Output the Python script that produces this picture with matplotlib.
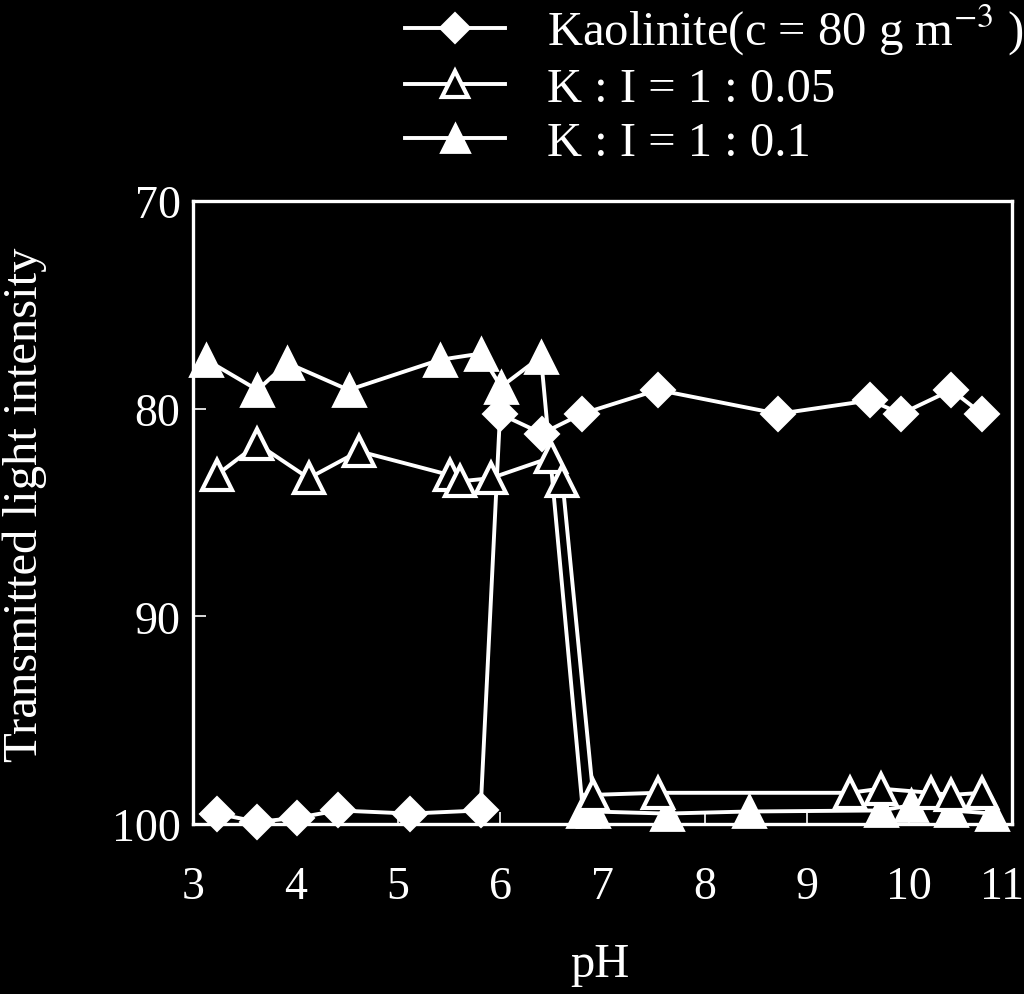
import matplotlib
matplotlib.use("Agg")
import matplotlib.pyplot as plt
from matplotlib.transforms import ScaledTranslation

# ---- data ----
kao_ph = [3.23, 3.63, 4.02, 4.42, 5.12, 5.81, 6.00, 6.41, 6.80, 7.54, 8.72, 9.62, 9.92, 10.41, 10.71]
kao_val = [99.5, 99.9, 99.7, 99.35, 99.5, 99.35, 80.25, 81.2, 80.25, 79.1, 80.25, 79.6, 80.25, 79.1, 80.25]

ki005_ph = [3.23, 3.63, 4.13, 4.62, 5.51, 5.61, 5.91, 6.50, 6.61, 6.91, 7.54, 9.42, 9.72, 10.21, 10.41, 10.71]
ki005_val = [83.2, 81.7, 83.35, 82.05, 83.2, 83.5, 83.35, 82.35, 83.5, 98.6, 98.5, 98.5, 98.3, 98.5, 98.6, 98.5]

ki01_ph = [3.13, 3.63, 3.92, 4.52, 5.41, 5.81, 6.01, 6.40, 6.81, 6.91, 7.63, 8.43, 9.72, 10.02, 10.41, 10.81]
ki01_val = [77.65, 79.1, 77.8, 79.1, 77.65, 77.35, 78.95, 77.5, 99.4, 99.4, 99.5, 99.4, 99.35, 99.1, 99.35, 99.5]

labels = [r"Kaolinite(c = 80 g m$^{-3}$ )", "K : I = 1 : 0.05", "K : I = 1 : 0.1"]
x_ticks = [3, 4, 5, 6, 7, 8, 9, 10, 11]
y_ticks = [70, 80, 90, 100]

plt.rcParams['font.family'] = ['Liberation Serif', 'DejaVu Serif']
plt.rcParams['mathtext.fontset'] = 'stix'

fig = plt.figure(figsize=(10.24, 9.95), dpi=100, facecolor='black')
ax = fig.add_axes([0.1885, 0.1709, 0.7995, 0.6261], facecolor='black')

lw = 2.8
l1, = ax.plot(kao_ph, kao_val, color='white', lw=lw, marker='D', markersize=17.5,
              markerfacecolor='white', markeredgecolor='white', markeredgewidth=1.5,
              label=labels[0], zorder=3, clip_on=False)
l3, = ax.plot(ki01_ph, ki01_val, color='white', lw=lw, marker='^', markersize=23,
              markerfacecolor='white', markeredgecolor='white', markeredgewidth=2,
              label=labels[2], zorder=4, clip_on=False)
l2, = ax.plot(ki005_ph, ki005_val, color='white', lw=lw, marker='^', markersize=22,
              markerfacecolor='black', markeredgecolor='white', markeredgewidth=3,
              label=labels[1], zorder=5, clip_on=False)

ax.set_xlim(3, 11)
ax.set_ylim(100, 70)
ax.set_xticks(x_ticks)
ax.set_yticks(y_ticks)

for s in ax.spines.values():
    s.set_color('white')
    s.set_linewidth(2.4)

ax.tick_params(axis='both', direction='in', length=9, width=1.2, colors='white',
               labelsize=33, labelcolor='white')
ax.tick_params(axis='x', pad=30)
ax.tick_params(axis='y', pad=9)

# nudge the last x tick label so it stays inside the figure
last_lbl = ax.get_xticklabels()[-1]
last_lbl.set_transform(last_lbl.get_transform() + ScaledTranslation(-10 / 100, 0, fig.dpi_scale_trans))

ax.set_xlabel('pH', fontsize=35, color='white')
ax.set_ylabel('Transmitted light intensity', fontsize=35, color='white')
ax.xaxis.set_label_coords(0.497, -0.19)
ax.yaxis.set_label_coords(-0.178, 0.514)

leg = fig.legend(handles=[l1, l2, l3], labels=labels, loc='upper left',
                 bbox_to_anchor=(0.3955, 0.997), frameon=False, fontsize=35,
                 markerscale=0.85, handlelength=2.06, handletextpad=0.86,
                 labelspacing=0.2, borderpad=0.0, borderaxespad=0.0,
                 labelcolor='white')

fig.savefig('out.png', dpi=100, facecolor='black')
